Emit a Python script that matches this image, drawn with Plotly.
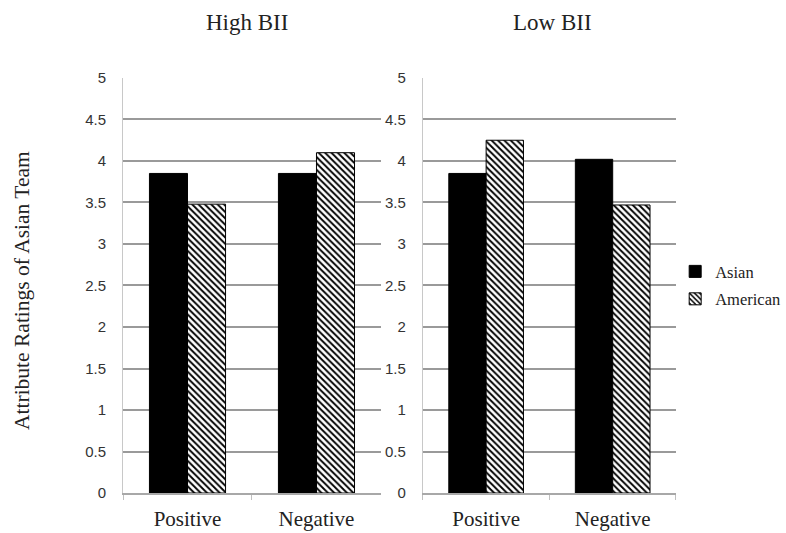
import plotly.graph_objects as go

categories = ["Positive", "Negative"]
high_asian = [3.85, 3.85]
high_american = [3.48, 4.10]
low_asian = [3.85, 4.02]
low_american = [4.25, 3.47]
panel_titles = ["High BII", "Low BII"]
y_ticks = [0, 0.5, 1, 1.5, 2, 2.5, 3, 3.5, 4, 4.5, 5]
y_title = "Attribute Ratings of Asian Team"

serif = "Liberation Serif, Times New Roman, serif"
sans = "Liberation Sans, Arial, sans-serif"

fig = go.Figure()
hatch = dict(shape="\\", fgcolor="black", bgcolor="white", size=4.5, solidity=0.42, fillmode="replace")

for i, (asian, american) in enumerate([(high_asian, high_american), (low_asian, low_american)]):
    xa = "x" if i == 0 else "x2"
    ya = "y" if i == 0 else "y2"
    fig.add_trace(go.Bar(x=categories, y=asian, name="Asian",
                         marker=dict(color="black", line=dict(color="black", width=1)),
                         xaxis=xa, yaxis=ya, showlegend=(i == 0), legendgroup="a"))
    fig.add_trace(go.Bar(x=categories, y=american, name="American",
                         marker=dict(color="white", pattern=hatch, line=dict(color="black", width=1)),
                         xaxis=xa, yaxis=ya, showlegend=(i == 0), legendgroup="b"))

yax = dict(range=[0, 5], tickvals=y_ticks, ticktext=[str(v) for v in y_ticks],
           showgrid=True, gridcolor="#9a9a9a", gridwidth=1.5, zeroline=False,
           showline=True, linecolor="#c8c8c8", linewidth=1, automargin=False,
           tickfont=dict(family=sans, size=15, color="#333333"), ticks="", ticklabelstandoff=13)
xax = dict(showline=True, linecolor="#a8a8a8", linewidth=1.5, ticks="outside", tickson="boundaries",
           ticklen=5, tickcolor="#c0c0c0", automargin=False, ticklabelstandoff=6,
           tickfont=dict(family=serif, size=21, color="#222222"))

fig.update_layout(
    width=786, height=533,
    margin=dict(l=0, r=0, t=0, b=0, autoexpand=False),
    paper_bgcolor="white", plot_bgcolor="white",
    barmode="group", bargap=0.41, bargroupgap=0,
    xaxis=dict(domain=[0.1565, 0.4847], anchor="y", **xax),
    xaxis2=dict(domain=[0.538, 0.860], anchor="y2", **xax),
    yaxis=dict(domain=[0.075, 0.8537], anchor="x", **yax),
    yaxis2=dict(domain=[0.075, 0.8537], anchor="x2", **yax),
    legend=dict(x=0.859, y=0.465, xanchor="left", yanchor="middle",
                font=dict(family=serif, size=16.5, color="#222222"), itemwidth=30,
                tracegroupgap=3, bgcolor="rgba(0,0,0,0)"),
    showlegend=True,
)

fig.add_annotation(x=247 / 786, y=1 - 22 / 533, xref="paper", yref="paper", text=panel_titles[0],
                   xanchor="center", yanchor="middle",
                   showarrow=False, font=dict(family=serif, size=23, color="#222222"))
fig.add_annotation(x=552 / 786, y=1 - 22 / 533, xref="paper", yref="paper", text=panel_titles[1],
                   xanchor="center", yanchor="middle",
                   showarrow=False, font=dict(family=serif, size=23, color="#222222"))
fig.add_annotation(x=22 / 786, y=1 - 291 / 533, xref="paper", yref="paper", text=y_title, textangle=-90,
                   xanchor="center", yanchor="middle",
                   showarrow=False, font=dict(family=serif, size=21.5, color="#222222"))

fig.write_html("out.html", config={"displayModeBar": False},
               post_script="document.body.style.margin='0';document.body.style.overflow='hidden';")
